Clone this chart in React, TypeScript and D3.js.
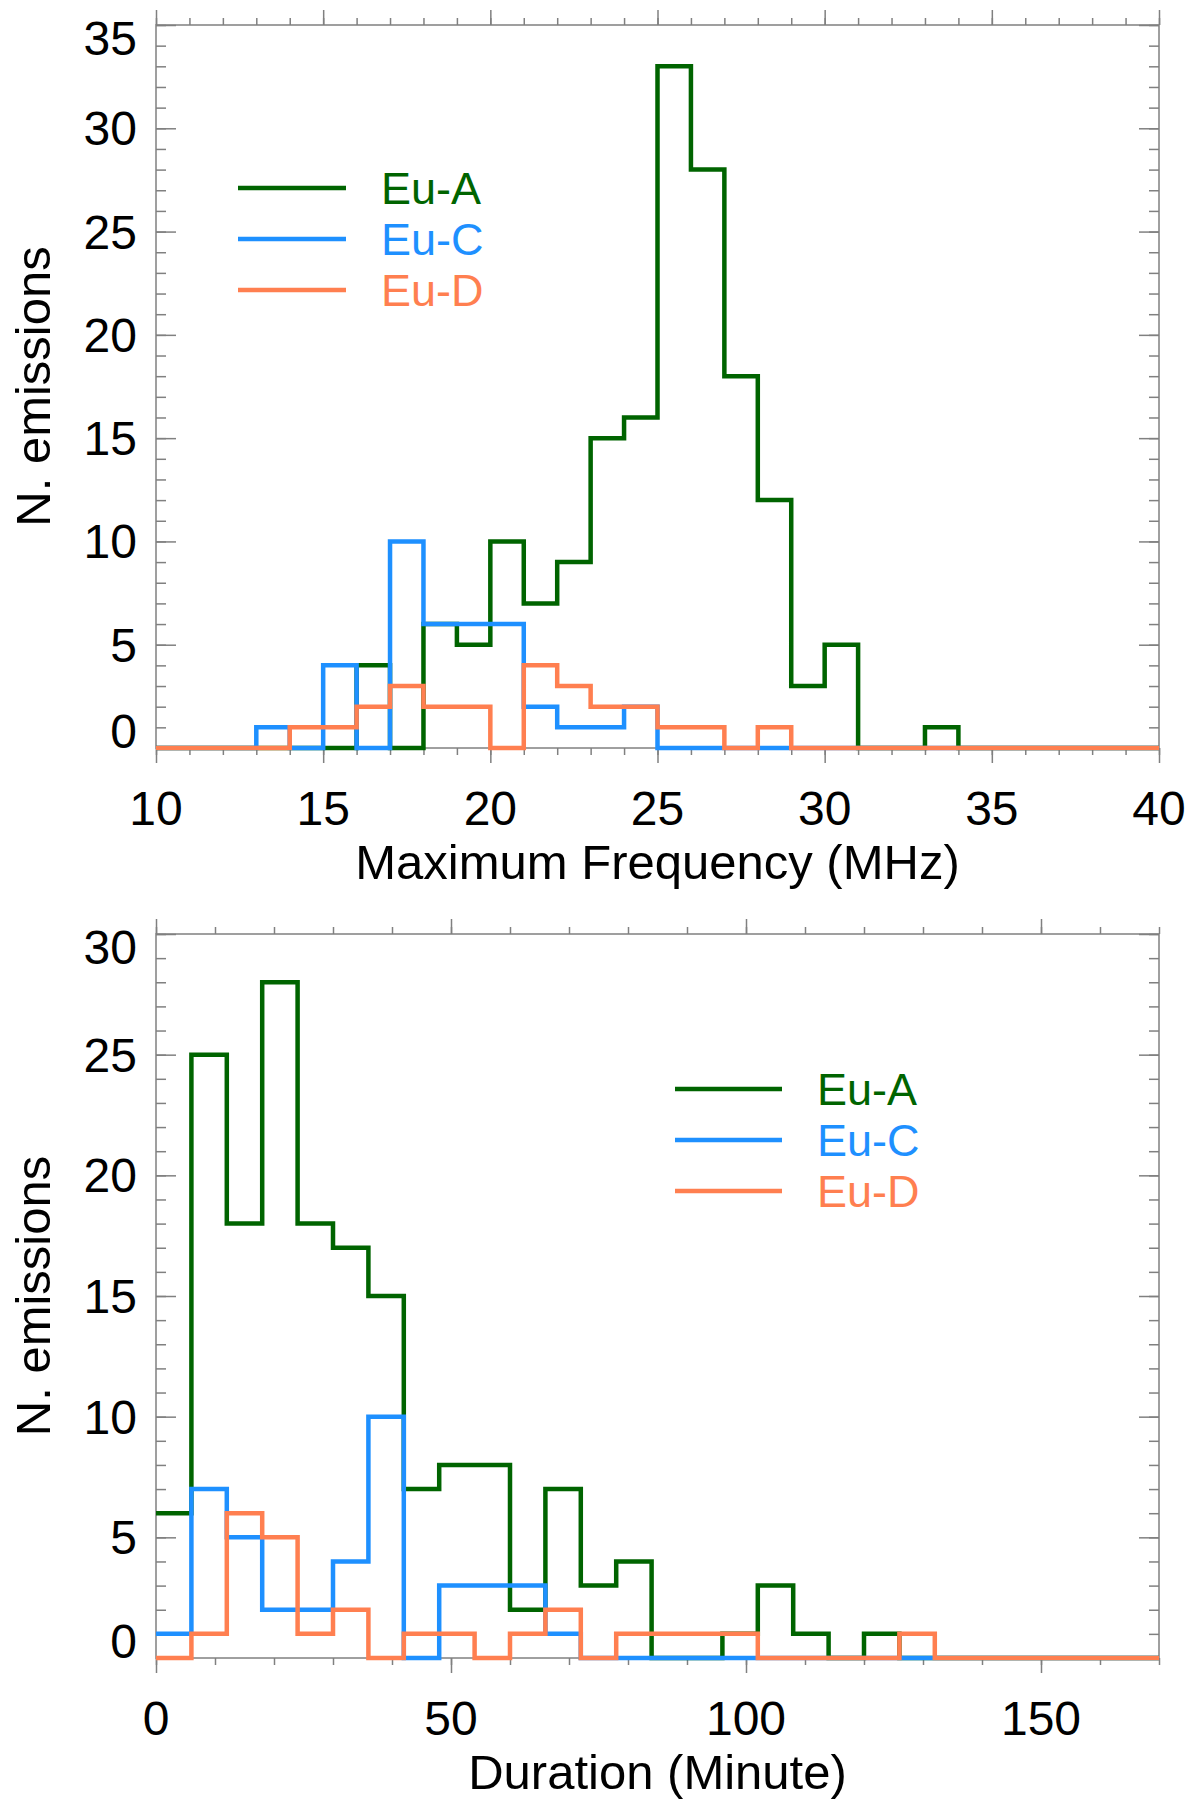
import React, { useRef, useEffect } from 'react'
import * as d3 from 'd3'

// Series names and colours (IDL-like palette)
const SERIES = ['Eu-A', 'Eu-C', 'Eu-D']
const COLORS = ['#006400', '#1E90FF', '#FF7F50']

// Top panel: maximum frequency, 1 MHz bins (left edges)
const freqBins = [10, 11, 12, 13, 14, 15, 16, 17, 18, 19, 20, 21, 22, 23, 24, 25, 26, 27, 28, 29, 30, 31, 32, 33, 34, 35, 36, 37, 38, 39]
const freqEuA = [0, 0, 0, 0, 0, 0, 4, 0, 6, 5, 10, 7, 9, 15, 16, 33, 28, 18, 12, 3, 5, 0, 0, 1, 0, 0, 0, 0, 0, 0]
const freqEuC = [0, 0, 0, 1, 0, 4, 0, 10, 6, 6, 6, 2, 1, 1, 2, 0, 0, 0, 0, 0, 0, 0, 0, 0, 0, 0, 0, 0, 0, 0]
const freqEuD = [0, 0, 0, 0, 1, 1, 2, 3, 2, 2, 0, 4, 3, 2, 2, 1, 1, 0, 1, 0, 0, 0, 0, 0, 0, 0, 0, 0, 0, 0]
const freqTicks = [10, 15, 20, 25, 30, 35, 40]
const freqCountTicks = [0, 5, 10, 15, 20, 25, 30, 35]

// Bottom panel: duration, 6 minute bins (left edges)
const durBins = [0, 6, 12, 18, 24, 30, 36, 42, 48, 54, 60, 66, 72, 78, 84, 90, 96, 102, 108, 114, 120, 126, 132, 138, 144, 150, 156, 162]
const durEuA = [6, 25, 18, 28, 18, 17, 15, 7, 8, 8, 2, 7, 3, 4, 0, 0, 1, 3, 1, 0, 1, 0, 0, 0, 0, 0, 0, 0]
const durEuC = [1, 7, 5, 2, 2, 4, 10, 0, 3, 3, 3, 1, 0, 0, 0, 0, 0, 0, 0, 0, 0, 0, 0, 0, 0, 0, 0, 0]
const durEuD = [0, 1, 6, 5, 1, 2, 0, 1, 1, 0, 1, 2, 0, 1, 1, 1, 1, 0, 0, 0, 0, 1, 0, 0, 0, 0, 0, 0]
const durTicks = [0, 50, 100, 150]
const durCountTicks = [0, 5, 10, 15, 20, 25, 30]

const FONT = '"Liberation Sans", Arial, Helvetica, sans-serif'
const AXIS = '#808080'
const W = 1200
const H = 1813
const LEFT = 156
const RIGHT = 1159

interface PanelOpts {
  top: number
  bottom: number
  xDomain: [number, number]
  yDomain: [number, number]
  bins: number[]
  series: number[][]
  xTicks: number[]
  xMinor: number
  yTicks: number[]
  xTitle: string
  legend: { x1: number; x2: number; tx: number; y: number }
}

function drawPanel(svg: d3.Selection<SVGSVGElement, unknown, null, undefined>, o: PanelOpts) {
  const x = d3.scaleLinear().domain(o.xDomain).range([LEFT, RIGHT])
  const y = d3.scaleLinear().domain(o.yDomain).range([o.bottom, o.top])
  const g = svg.append('g')

  const xMinorTicks = d3.range(o.xDomain[0], o.xDomain[1] + 0.001, o.xMinor)
  const yMinorTicks = d3.range(o.yDomain[0], o.yDomain[1] + 0.001, 1)

  const styleAxis = (sel: d3.Selection<SVGGElement, unknown, null, undefined>) => {
    sel.select('.domain').remove()
    sel.selectAll('line').attr('stroke', AXIS).attr('stroke-width', 1.5)
  }

  // frame
  g.append('rect')
    .attr('x', LEFT).attr('y', o.top)
    .attr('width', RIGHT - LEFT).attr('height', o.bottom - o.top)
    .attr('fill', 'none').attr('stroke', AXIS).attr('stroke-width', 1.5)

  // y axes: ticks inward
  g.append('g').attr('transform', `translate(${LEFT},0)`)
    .call(d3.axisLeft(y).tickValues(yMinorTicks).tickSize(-10).tickFormat(() => ''))
    .call(styleAxis)
  g.append('g').attr('transform', `translate(${LEFT},0)`)
    .call(d3.axisLeft(y).tickValues(o.yTicks).tickSize(-20).tickFormat(() => ''))
    .call(styleAxis)
  g.append('g').attr('transform', `translate(${RIGHT},0)`)
    .call(d3.axisRight(y).tickValues(yMinorTicks).tickSize(-10).tickFormat(() => ''))
    .call(styleAxis)
  g.append('g').attr('transform', `translate(${RIGHT},0)`)
    .call(d3.axisRight(y).tickValues(o.yTicks).tickSize(-20).tickFormat(() => ''))
    .call(styleAxis)

  // x axes: ticks outward
  g.append('g').attr('transform', `translate(0,${o.bottom})`)
    .call(d3.axisBottom(x).tickValues(xMinorTicks).tickSize(7).tickFormat(() => ''))
    .call(styleAxis)
  g.append('g').attr('transform', `translate(0,${o.bottom})`)
    .call(d3.axisBottom(x).tickValues(o.xTicks).tickSize(15).tickFormat(() => ''))
    .call(styleAxis)
  g.append('g').attr('transform', `translate(0,${o.top})`)
    .call(d3.axisTop(x).tickValues(xMinorTicks).tickSize(7).tickFormat(() => ''))
    .call(styleAxis)
  g.append('g').attr('transform', `translate(0,${o.top})`)
    .call(d3.axisTop(x).tickValues(o.xTicks).tickSize(15).tickFormat(() => ''))
    .call(styleAxis)

  // tick labels
  g.selectAll('.ylab')
    .data(o.yTicks)
    .enter().append('text')
    .attr('x', LEFT - 19)
    .attr('y', d => {
      if (d === o.yDomain[0]) return y(d)
      if (d === o.yDomain[1]) return y(d) + 30
      return y(d) + 17
    })
    .attr('text-anchor', 'end')
    .style('font-size', '48px')
    .text(d => d)

  g.selectAll('.xlab')
    .data(o.xTicks)
    .enter().append('text')
    .attr('x', d => x(d))
    .attr('y', o.bottom + 77)
    .attr('text-anchor', 'middle')
    .style('font-size', '48px')
    .text(d => d)

  // axis titles
  g.append('text')
    .attr('x', (LEFT + RIGHT) / 2)
    .attr('y', o.bottom + 131)
    .attr('text-anchor', 'middle')
    .style('font-size', '49px')
    .text(o.xTitle)

  g.append('text')
    .attr('transform', `translate(50,${(o.top + o.bottom) / 2}) rotate(-90)`)
    .attr('text-anchor', 'middle')
    .style('font-size', '49px')
    .text('N. emissions')

  // histograms as steps
  const line = d3.line<[number, number]>()
    .x(d => x(d[0]))
    .y(d => y(d[1]))
    .curve(d3.curveStepAfter)

  o.series.forEach((vals, i) => {
    const pts: [number, number][] = o.bins.map((b, j) => [b, vals[j]])
    pts.push([o.xDomain[1], vals[vals.length - 1]])
    g.append('path')
      .attr('d', line(pts))
      .attr('fill', 'none')
      .attr('stroke', COLORS[i])
      .attr('stroke-width', 4.5)
      .attr('stroke-linejoin', 'miter')
  })

  // legend
  SERIES.forEach((name, i) => {
    const ly = o.top + o.legend.y + 51 * i
    g.append('line')
      .attr('x1', LEFT + o.legend.x1).attr('x2', LEFT + o.legend.x2)
      .attr('y1', ly).attr('y2', ly)
      .attr('stroke', COLORS[i]).attr('stroke-width', 4.5)
    g.append('text')
      .attr('x', LEFT + o.legend.tx)
      .attr('y', ly + 16)
      .style('font-size', '45px')
      .attr('fill', COLORS[i])
      .text(name)
  })
}

export default function App() {
  const svgRef = useRef<SVGSVGElement>(null)

  useEffect(() => {
    if (!svgRef.current) return
    const svg = d3.select(svgRef.current)
    svg.selectAll('*').remove()

    drawPanel(svg, {
      top: 25,
      bottom: 748,
      xDomain: [10, 40],
      yDomain: [0, 35],
      bins: freqBins,
      series: [freqEuA, freqEuC, freqEuD],
      xTicks: freqTicks,
      xMinor: 1,
      yTicks: freqCountTicks,
      xTitle: 'Maximum Frequency (MHz)',
      legend: { x1: 82, x2: 190, tx: 225, y: 163 }
    })

    drawPanel(svg, {
      top: 934,
      bottom: 1658,
      xDomain: [0, 170],
      yDomain: [0, 30],
      bins: durBins,
      series: [durEuA, durEuC, durEuD],
      xTicks: durTicks,
      xMinor: 10,
      yTicks: durCountTicks,
      xTitle: 'Duration (Minute)',
      legend: { x1: 519, x2: 626, tx: 661, y: 155 }
    })
  }, [])

  return (
    <svg
      ref={svgRef}
      width={W}
      height={H}
      style={{
        position: 'absolute',
        left: 0,
        top: 0,
        backgroundColor: 'white',
        fontFamily: FONT
      }}
    />
  )
}
